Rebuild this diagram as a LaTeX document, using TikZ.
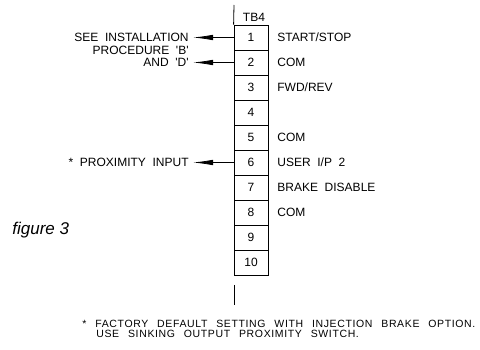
\documentclass[tikz,border=0pt]{standalone}
\usepackage{fontspec}
\setmainfont{Liberation Sans}
\newfontfamily\cadfont[WordSpace=2]{Liberation Sans}
\newfontfamily\notefont[WordSpace=2.5, LetterSpace=6]{Liberation Sans}
\usetikzlibrary{arrows.meta}

\begin{document}
\begin{tikzpicture}[x=1pt, y=-1pt, line width=0.8pt]
	\tikzstyle{term} = [rectangle, draw, minimum width=34pt, minimum height=25pt, inner sep=0pt, font=\cadfont\fontsize{12}{14}\selectfont]
	\tikzstyle{tag} = [inner sep=0pt, text height=8.6pt, text depth=0pt, font=\cadfont\fontsize{12}{14}\selectfont]
	\tikzstyle{note} = [inner sep=0pt, anchor=west, text height=7.5pt, text depth=0pt, font=\notefont\fontsize{10.5}{12}\selectfont]
	\tikzstyle{line} = [draw, -{Latex[length=20pt, width=5.5pt]}, shorten >=4pt]
	\useasboundingbox (0,0) rectangle (480,350);
	% terminal strip TB4
	\node [tag] (tb) at (254,17) {TB4};
	\foreach \n in {1,...,10}
		\node [term] (t\n) at (251,12.5+25*\n) {\n};
	\foreach \n/\txt in {1/{START/STOP}, 2/COM, 3/{FWD/REV}, 5/COM, 6/{USER I/P 2}, 7/BRAKE DISABLE, 8/COM}
		\node [tag, anchor=west] (d\n) at (277,12.5+25*\n) {\txt};
	% leads above and below
	\coordinate (leadtop) at (234,5);
	\coordinate (leadbota) at (234,285);
	\coordinate (leadbotb) at (234,305);
	\draw (leadtop) -- (t1.north west);
	\draw (leadbota) -- (leadbotb);
	% left hand notes
	\node [tag, anchor=east] (see) at (189,37.5) {SEE INSTALLATION};
	\node [tag, anchor=east] (proc) at (189,50) {PROCEDURE 'B'};
	\node [tag, anchor=east] (andd) at (189,62.5) {AND 'D'};
	\node [tag, anchor=east] (prox) at (189,162.5) {* PROXIMITY INPUT};
	\path [line] (t1.west) -- (see.east);
	\path [line] (t2.west) -- (andd.east);
	\path [line] (t6.west) -- (prox.east);
	% caption and footnote
	\node [anchor=base west, inner sep=0pt, font=\fontsize{17}{20}\selectfont\itshape] (fig) at (12,235) {figure 3};
	\node [note] (foot1) at (82,323.5) {* FACTORY DEFAULT SETTING WITH INJECTION BRAKE OPTION.};
	\node [note] (foot2) at (96,333.5) {USE SINKING OUTPUT PROXIMITY SWITCH.};
\end{tikzpicture}
\end{document}
